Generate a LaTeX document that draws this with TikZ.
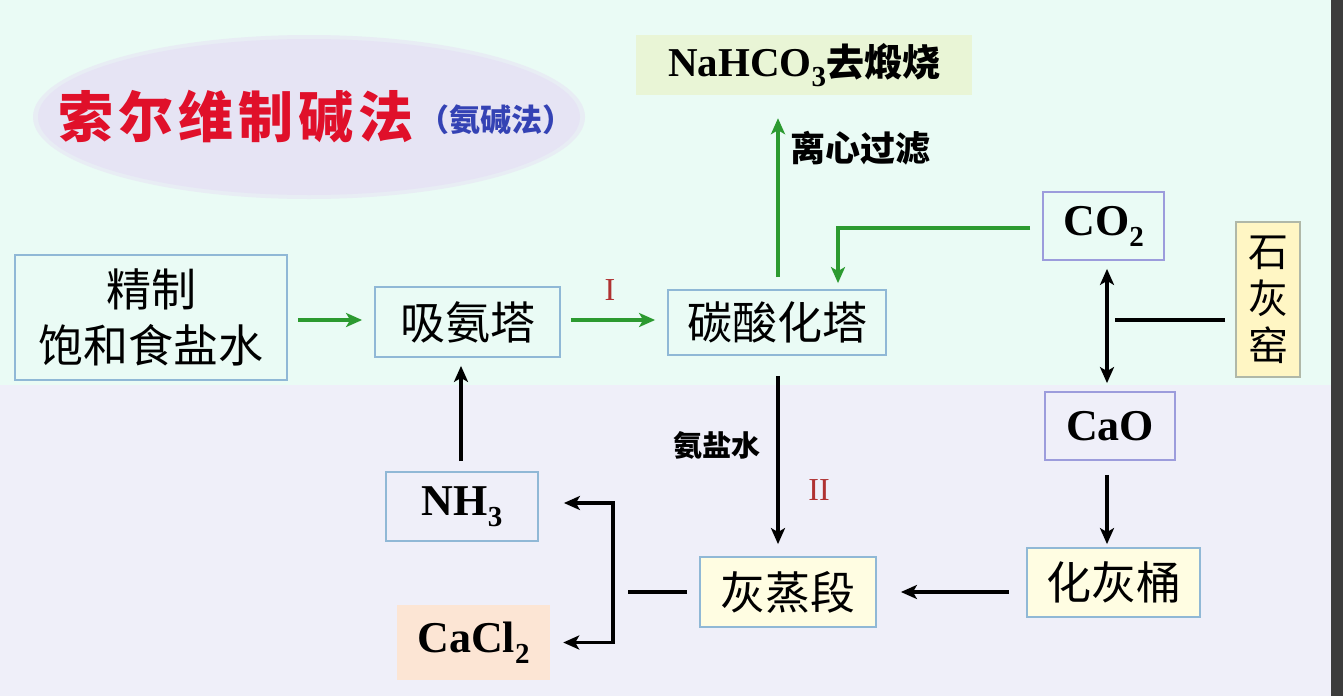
\documentclass[tikz,border=0pt]{standalone}
\usepackage{fontspec}
\setmainfont{Liberation Serif}
\newfontfamily\cjk{Noto Sans CJK SC}
\usetikzlibrary{calc,arrows.meta}
\definecolor{topbg}{HTML}{EAFBF5}
\definecolor{botbg}{HTML}{EFEFF9}
\definecolor{strip}{HTML}{3C3C3C}
\definecolor{ellfill}{HTML}{E6E4F4}
\definecolor{boxblue}{HTML}{90B8D6}
\definecolor{boxpurple}{HTML}{9C9CDC}
\definecolor{gline}{HTML}{2C9A30}
\definecolor{nahcofill}{HTML}{E9F5D6}
\definecolor{kilnfill}{HTML}{FFF6C4}
\definecolor{kilndraw}{HTML}{B0B8A8}
\definecolor{yelfill}{HTML}{FFFDE2}
\definecolor{peach}{HTML}{FCE5D4}
\definecolor{titlered}{HTML}{E0102A}
\definecolor{titleblue}{HTML}{3442B4}
\definecolor{romred}{HTML}{B03232}
\newcommand{\sz}[1]{\fontsize{#1}{#1}\selectfont}
\newcommand{\mysub}[1]{\raisebox{-0.55ex}{\sz{29}#1}}
\begin{document}
\begin{tikzpicture}[x=1pt,y=-1pt,
  box/.style={draw=boxblue, line width=1.8pt, inner sep=0pt, font=\cjk\sz{45}},
  chem/.style={draw=boxpurple, line width=1.8pt, inner sep=0pt, font=\bfseries\sz{44}},
  tip/.style={-{Stealth[length=16pt,width=14pt,inset=4pt]}},
  garrow/.style={draw=gline, line width=3.4pt, tip},
  karrow/.style={draw=black, line width=3.4pt, tip},
  kline/.style={draw=black, line width=3.4pt},
  dbl/.style={{Stealth[length=16pt,width=14pt,inset=4pt]}-{Stealth[length=16pt,width=14pt,inset=4pt]}},
  lab/.style={inner sep=0pt, font=\cjk\bfseries\sz{35}},
  roman/.style={inner sep=0pt, text=romred, font=\sz{32}}]
% background
\fill[topbg] (0,0) rectangle (1331,385);
\fill[botbg] (0,385) rectangle (1331,696);
\fill[strip] (1331,0) rectangle (1343,696);
\useasboundingbox (0,0) rectangle (1343,696);
% title
\fill[ellfill!60!topbg] (309,117) ellipse [x radius=276pt, y radius=82pt];
\fill[ellfill] (309,117) ellipse [x radius=271pt, y radius=78pt];
\node[inner sep=0pt, text=titlered, font=\cjk\bfseries\sz{55}, anchor=west] (title) at (58,117) {索\hspace{5pt}尔\hspace{5pt}维\hspace{5pt}制\hspace{5pt}碱\hspace{5pt}法};
\node[inner sep=0pt, text=titleblue, font=\cjk\bfseries\sz{31}, anchor=west] (sub) at (418,120) {（氨碱法）};
% nodes
\node[box, minimum width=272pt, minimum height=125pt, align=center, font=\cjk\fontsize{45}{56}\selectfont] (brine) at (151,317.5) {精制\\饱和食盐水};
\node[box, minimum width=185pt, minimum height=70pt] (absorb) at (467.5,322) {吸氨塔};
\node[box, minimum width=218pt, minimum height=65pt] (carb) at (777,322.5) {碳酸化塔};
\node[fill=nahcofill, inner sep=0pt, minimum width=336pt, minimum height=60pt, font=\bfseries\sz{41}] (nahco) at (804,65) {NaHCO\mysub{3}{\cjk\bfseries\sz{38}去煅烧}};
\node[chem, minimum width=121pt, minimum height=68pt] (co2) at (1103.5,226) {CO\mysub{2}};
\node[draw=kilndraw, fill=kilnfill, line width=1.8pt, inner sep=0pt, minimum width=64pt, minimum height=155pt, align=center, font=\cjk\fontsize{40}{47}\selectfont] (kiln) at (1268,299.5) {石\\灰\\窑};
\node[chem, minimum width=130pt, minimum height=68pt] (cao) at (1110,426) {CaO};
\node[box, fill=yelfill, minimum width=173pt, minimum height=69pt] (slake) at (1113.5,582.5) {化灰桶};
\node[box, fill=yelfill, minimum width=176pt, minimum height=70pt] (dist) at (788,592) {灰蒸段};
\node[box, font=\bfseries\sz{44}, minimum width=152pt, minimum height=69pt] (nh3) at (462,506.5) {NH\mysub{3}};
\node[fill=peach, inner sep=0pt, font=\bfseries\sz{44}, minimum width=153pt, minimum height=75pt] (cacl2) at (473.5,642.5) {CaCl\mysub{2}};
% coordinates
\coordinate (j) at (1107,320);
\coordinate (bend) at (628,592);
% green connectors
\draw[garrow] ($(brine.east)+(10,2.5)$) -- ($(absorb.west)+(-12,-2)$);
\draw[garrow] ($(absorb.east)+(10,-2)$) -- ($(carb.west)+(-12,-2.5)$);
\node[roman] (lI) at (610,290) {I};
\draw[garrow] ($(carb.north)+(1,-12)$) -- ($(carb.north |- nahco.south)+(1,23)$);
\node[lab, anchor=west] (l1) at (790,148) {离心过滤};
\draw[garrow] ($(co2.west)+(-12,2)$) -| ($(carb.north)+(61,-6)$);
% black connectors
\draw[kline] ($(kiln.west)+(-10,20.5)$) -- ($(j)+(8,0)$);
\draw[kline, dbl] ($(co2.south -| j)+(0,8)$) -- ($(cao.north -| j)+(0,-8)$);
\draw[karrow] ($(cao.south -| j)+(0,14)$) -- ($(slake.north -| j)+(0,-3)$);
\draw[karrow] ($(slake.west |- dist.east)+(-17,0)$) -- ($(dist.east)+(24,0)$);
\draw[karrow] ($(carb.south)+(1,20)$) -- ($(carb.south |- dist.north)+(1,-12)$);
\node[lab, font=\cjk\bfseries\sz{29}] (l2) at (717,445) {氨盐水};
\node[roman] (lII) at (819,490) {II};
\draw[kline] ($(dist.west)+(-12,0)$) -- (bend);
\draw[kline, dbl] ($(nh3.east)+(25,-3.5)$) -- ++(49,0) |- ($(cacl2.east)+(13,0)$);
\draw[karrow] ($(nh3.north)+(-1,-10)$) -- ($(nh3.north |- absorb.south)+(-1,8)$);
\end{tikzpicture}
\end{document}
